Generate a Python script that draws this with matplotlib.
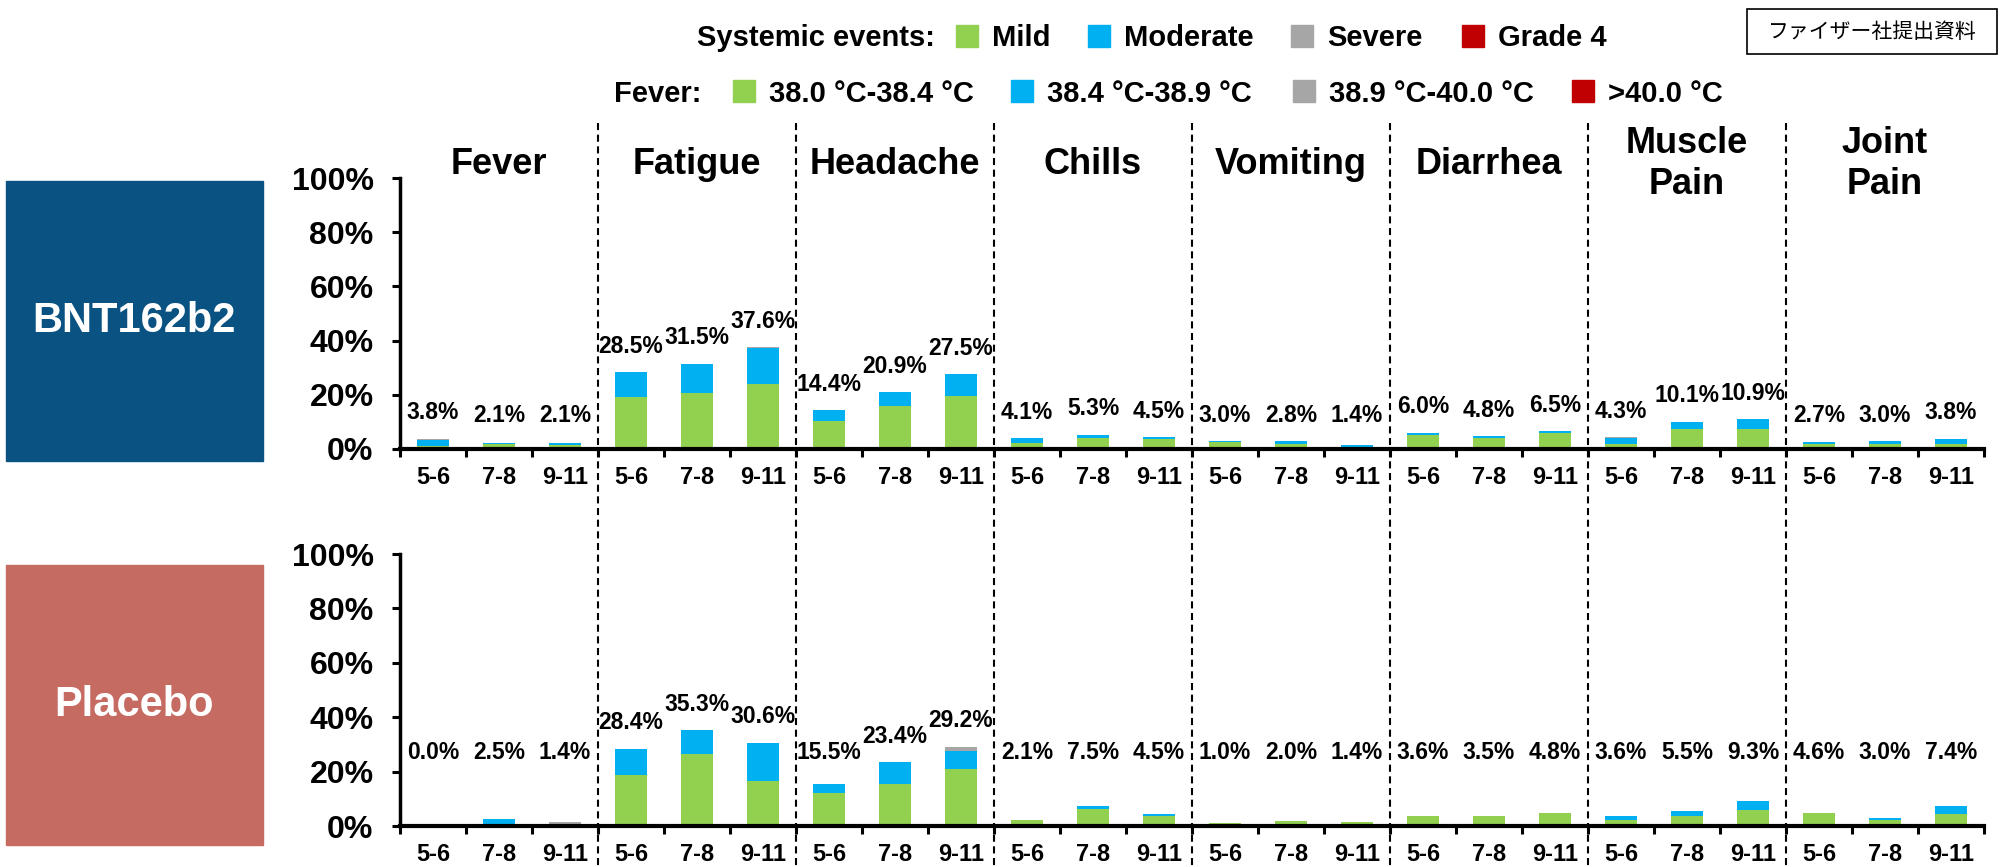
import numpy as np
import matplotlib
matplotlib.use('Agg')
import matplotlib.pyplot as plt
from matplotlib.lines import Line2D
from matplotlib.patches import Rectangle

plt.rcParams['font.family'] = ['Liberation Sans', 'DejaVu Sans']
plt.rcParams['font.weight'] = 'bold'

# symptom groups and age bands (years)
categories = ['Fever', 'Fatigue', 'Headache', 'Chills', 'Vomiting',
              'Diarrhea', 'Muscle\nPain', 'Joint\nPain']
age_groups = ['5-6', '7-8', '9-11']

# % of participants, three age bands per symptom
bnt_mild = [1.0, 1.7, 1.3, 19.3, 20.7, 24.1, 10.2, 15.9, 19.6,
            2.2, 4.1, 3.6, 2.7, 2.0, 0.0, 5.0, 3.9, 6.0,
            1.9, 7.5, 7.4, 2.0, 2.0, 1.8]
bnt_moderate = [2.2, 0.4, 0.8, 9.2, 10.8, 13.2, 4.2, 5.0, 7.9,
                1.9, 1.2, 0.9, 0.3, 0.8, 1.4, 1.0, 0.9, 0.5,
                2.1, 2.6, 3.5, 0.7, 1.0, 2.0]
bnt_severe = [0.6, 0, 0, 0, 0, 0.3, 0, 0, 0,
              0, 0, 0, 0, 0, 0, 0, 0, 0,
              0.3, 0, 0, 0, 0, 0]
bnt_grade4 = [0] * 24

placebo_mild = [0.0, 0.0, 0.0, 18.9, 26.3, 16.7, 12.0, 15.6, 21.0,
                2.1, 6.2, 3.5, 1.0, 2.0, 1.4, 3.6, 3.5, 4.8,
                2.2, 3.5, 5.9, 4.6, 2.1, 4.5]
placebo_moderate = [0, 2.5, 0.7, 9.5, 9.0, 13.7, 3.5, 7.8, 6.7,
                    0, 1.3, 1.0, 0, 0, 0, 0, 0, 0,
                    1.4, 2.0, 3.4, 0, 0.9, 2.9]
placebo_severe = [0, 0, 0.7, 0, 0, 0.2, 0, 0, 1.5,
                  0, 0, 0, 0, 0, 0, 0, 0, 0,
                  0, 0, 0, 0, 0, 0]
placebo_grade4 = [0] * 24

colors = ['#92D050', '#00B0F0', '#A6A6A6', '#C00000']

W, H = 2003, 867
fig = plt.figure(figsize=(W / 100, H / 100), dpi=100)


def fx(px):
    return px / W


def fy(py):
    return 1 - py / H


def draw_panel(top_px, bottom_px, series, label_floor):
    ax = fig.add_axes([fx(400), fy(bottom_px), fx(1584), (bottom_px - top_px) / H])
    x = np.arange(24) + 0.5
    base = np.zeros(24)
    for vals, c in zip(series, colors):
        vals = np.array(vals, dtype=float)
        ax.bar(x, vals, width=0.48, bottom=base, color=c, linewidth=0)
        base += vals
    for xi, tot in zip(x, base):
        ypos = max(tot + 9.5, label_floor)
        ax.text(xi, ypos, f'{tot:.1f}%', ha='center', va='center',
                fontsize=16.5, fontweight='bold', clip_on=False)
    ax.set_xlim(0, 24)
    ax.set_ylim(0, 100)
    ax.set_yticks(range(0, 101, 20))
    ax.set_yticklabels([f'{v}%' for v in range(0, 101, 20)])
    ax.set_xticks(np.arange(25))
    ax.set_xticklabels([])
    ax.set_xticks(x, minor=True)
    ax.set_xticklabels(age_groups * 8, minor=True)
    ax.tick_params(axis='x', which='major', length=6, width=2.2, direction='out')
    ax.tick_params(axis='x', which='minor', length=0, pad=12, labelsize=17)
    ax.tick_params(axis='y', length=6, width=2.2, pad=13, labelsize=23)
    for s in ['top', 'right']:
        ax.spines[s].set_visible(False)
    ax.spines['left'].set_linewidth(2.5)
    ax.spines['bottom'].set_linewidth(3)
    for lab in ax.get_xticklabels(minor=True) + ax.get_yticklabels():
        lab.set_fontweight('bold')
    return ax


draw_panel(178, 449, [bnt_mild, bnt_moderate, bnt_severe, bnt_grade4], 12.5)
draw_panel(554, 826, [placebo_mild, placebo_moderate, placebo_severe, placebo_grade4], 27)

# symptom titles and dashed group dividers
for i, name in enumerate(categories):
    fig.text(fx(400 + 198 * i + 99), fy(164), name, ha='center', va='center',
             fontsize=26, fontweight='bold', linespacing=1.2)
for i in range(1, 8):
    xx = fx(400 + 198 * i)
    fig.add_artist(Line2D([xx, xx], [fy(123), fy(867)], transform=fig.transFigure,
                          color='black', linewidth=1.5, dashes=(3.4, 2.2)))

# treatment boxes on the left
for (y0, y1), txt, col in [((181, 461), 'BNT162b2', '#0A5282'),
                           ((565, 845), 'Placebo', '#C56B62')]:
    fig.add_artist(Rectangle((fx(6), fy(y1)), fx(257), (y1 - y0) / H,
                             transform=fig.transFigure, color=col))
    fig.text(fx(134), fy((y0 + y1) / 2), txt, ha='center', va='center',
             color='white', fontsize=30, fontweight='bold')

# legend rows
sq = 22


def legend_row(yc, title, title_right, items):
    fig.text(fx(title_right), fy(yc + 10.5), title, ha='right', va='baseline',
             fontsize=21, fontweight='bold')
    for (x0, lab), c in zip(items, colors):
        fig.add_artist(Rectangle((fx(x0), fy(yc + sq / 2)), fx(sq), sq / H,
                                 transform=fig.transFigure, color=c))
        fig.text(fx(x0 + sq + 14), fy(yc + 10.5), lab, ha='left', va='baseline',
                 fontsize=21, fontweight='bold')


legend_row(36, 'Systemic events:', 935,
           [(956, 'Mild'), (1088, 'Moderate'), (1291, 'Severe'), (1462, 'Grade 4')])
legend_row(91, 'Fever:', 701,
           [(733, '38.0 °C-38.4 °C'), (1011, '38.4 °C-38.9 °C'),
            (1293, '38.9 °C-40.0 °C'), (1572, '>40.0 °C')])

# document stamp, top right
fig.add_artist(Rectangle((fx(1747), fy(54)), fx(250), 45 / H, transform=fig.transFigure,
                         facecolor='white', edgecolor='black', linewidth=1.2))
fig.text(fx(1872), fy(32), 'ファイザー社提出資料', ha='center', va='center',
         fontsize=15, fontweight='normal',
         family=['Noto Sans CJK JP', 'DejaVu Sans'])

fig.savefig('out.png', dpi=100)
